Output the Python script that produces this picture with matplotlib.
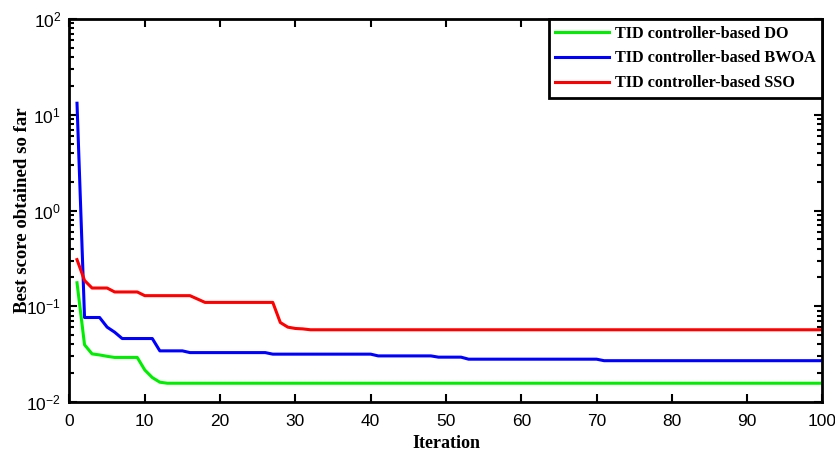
import matplotlib
matplotlib.use("Agg")
import matplotlib.pyplot as plt
from matplotlib.ticker import LogLocator, MultipleLocator, NullFormatter

plt.rcParams['mathtext.fontset'] = 'custom'
plt.rcParams['mathtext.rm'] = 'Liberation Sans'
plt.rcParams['mathtext.it'] = 'Liberation Sans'
plt.rcParams['mathtext.bf'] = 'Liberation Sans'
plt.rcParams['font.family'] = ['Liberation Sans', 'DejaVu Sans']

# Vertices of each convergence curve (iteration, best score)
do_iter = [1, 2, 3, 4, 5, 6, 9, 10, 11, 12, 13, 100]
do_score = [0.176, 0.0396, 0.0318, 0.0310, 0.0300, 0.0292, 0.0292, 0.0216, 0.0180, 0.0161, 0.0157, 0.0157]

bwoa_iter = [1, 2, 4, 5, 6, 7, 11, 12, 15, 16, 26, 27, 40, 41, 48, 49, 52, 53, 70, 71, 100]
bwoa_score = [13.2, 0.0763, 0.0763, 0.0605, 0.0536, 0.0460, 0.0460, 0.0342, 0.0342, 0.0328, 0.0328,
              0.0316, 0.0316, 0.0303, 0.0303, 0.0294, 0.0294, 0.0280, 0.0280, 0.0270, 0.0270]

sso_iter = [1, 2, 3, 5, 6, 9, 10, 16, 17, 18, 27, 28, 29, 30, 31, 32, 100]
sso_score = [0.307, 0.186, 0.155, 0.155, 0.141, 0.141, 0.129, 0.129, 0.119, 0.1097, 0.1097,
             0.0676, 0.0605, 0.0586, 0.0580, 0.0568, 0.0568]

labels = ['TID controller-based DO', 'TID controller-based BWOA', 'TID controller-based SSO']
colors = ['#00ee00', '#0000ff', '#ff0000']

fig = plt.figure(figsize=(8.35, 4.53), dpi=100)
ax = fig.add_axes([0.0832, 0.1126, 0.985 - 0.0832, 0.958 - 0.1126])

ax.plot(do_iter, do_score, color=colors[0], lw=2.2, label=labels[0])
ax.plot(bwoa_iter, bwoa_score, color=colors[1], lw=2.2, label=labels[1])
ax.plot(sso_iter, sso_score, color=colors[2], lw=2.2, label=labels[2])

ax.set_yscale('log')
ax.set_ylim(1e-2, 1e2)
ax.set_xlim(0, 100)
ax.xaxis.set_major_locator(MultipleLocator(10))
ax.yaxis.set_major_locator(LogLocator(base=10, numticks=10))
ax.yaxis.set_minor_locator(LogLocator(base=10, subs=range(2, 10), numticks=10))
ax.yaxis.set_minor_formatter(NullFormatter())

for s in ax.spines.values():
    s.set_linewidth(2.0)
ax.tick_params(which='both', direction='in', top=True, right=True, width=1.5)
ax.tick_params(which='major', length=6, labelsize=12.5, pad=6)
ax.tick_params(axis='x', which='major', pad=9)
ax.tick_params(which='minor', length=3.5)

ax.set_xlabel('Iteration', family='Liberation Serif', fontweight='bold', fontsize=13, labelpad=4)
ax.set_ylabel('Best score obtained so far', family='Liberation Serif', fontweight='bold', fontsize=13.5, labelpad=-3)

leg = ax.legend(loc='upper right', borderaxespad=0, fancybox=False, framealpha=1,
                edgecolor='black', handlelength=3.3, handletextpad=0.4, labelspacing=0.55,
                prop={'family': 'Liberation Serif', 'weight': 'bold', 'size': 11.7})
leg.get_frame().set_linewidth(2.0)

fig.savefig('out.png', dpi=100)
